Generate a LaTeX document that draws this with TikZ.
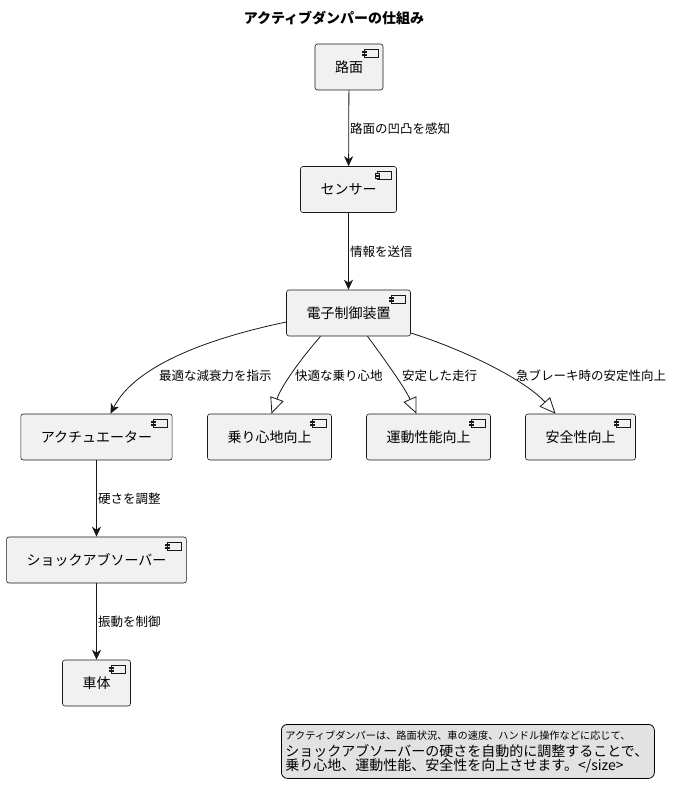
\documentclass[tikz,border=0pt]{standalone}
\usepackage{fontspec}
\setmainfont{Noto Sans CJK JP}
\usetikzlibrary{arrows.meta}
\definecolor{nodefill}{HTML}{F1F1F1}
\definecolor{edgecol}{HTML}{181818}
\definecolor{notefill}{HTML}{E2E2E2}
\tikzset{
  comp/.style={draw=edgecol, fill=nodefill, line width=0.6pt, rounded corners=2.5pt,
    minimum height=46pt, inner xsep=20pt, font=\fontsize{14}{16}\selectfont,
    path picture={
      \begin{scope}[sharp corners, line width=0.4pt, draw=edgecol]
        \draw[fill=nodefill] ([xshift=-19pt,yshift=-5pt]path picture bounding box.north east) rectangle ++(14,8);
        \draw[fill=nodefill] ([xshift=-21pt,yshift=-7pt]path picture bounding box.north east) rectangle ++(4,1.6);
        \draw[fill=nodefill] ([xshift=-21pt,yshift=-10pt]path picture bounding box.north east) rectangle ++(4,1.6);
      \end{scope}}},
  lbl/.style={anchor=west, font=\fontsize{12.5}{14}\selectfont, inner sep=0pt},
  flow/.style={draw=edgecol, line width=0.8pt, -{Stealth[length=10pt,width=9pt,inset=3pt]}},
  ext/.style={draw=edgecol, line width=0.8pt, -{Triangle[open,length=16pt,width=14pt,fill=white]}},
  notebox/.style={draw=black, fill=notefill, line width=0.8pt, rounded corners=6pt, align=left,
    inner xsep=4pt, inner ysep=3pt, text width=365pt, minimum height=54pt, anchor=north west}
}
\begin{document}
\begin{tikzpicture}[x=1pt,y=-1pt]
\useasboundingbox[fill=white] (0,0) rectangle (679,797);
\node[font=\fontsize{14}{16}\selectfont\bfseries] (title) at (334,18) {アクティブダンパーの仕組み};

\node[comp] (road) at (349,67) {路面};
\node[comp] (sensor) at (348.5,189.5) {センサー};
\node[comp] (ecu) at (348.5,313) {電子制御装置};
\node[comp] (act) at (96.5,437) {アクチュエーター};
\node[comp] (ride) at (269.5,437) {乗り心地向上};
\node[comp] (perf) at (428.5,437) {運動性能向上};
\node[comp] (safe) at (580.5,437) {安全性向上};
\node[comp] (shock) at (96.5,560) {ショックアブソーバー};
\node[comp] (body) at (96.5,683) {車体};

\draw[flow] (road) -- (sensor);
\draw[flow] (sensor) -- (ecu);
\draw[flow] ([yshift=-9pt]ecu.west) .. controls (210,338) and (135,365) .. ([xshift=14pt]act.north);
\draw[ext] ([xshift=-28pt]ecu.south) .. controls (300,360) and (282,385) .. ([xshift=2pt]ride.north);
\draw[ext] ([xshift=19pt]ecu.south) .. controls (385,360) and (405,388) .. ([xshift=-12pt]perf.north);
\draw[ext] ([yshift=-20pt]ecu.east) .. controls (465,350) and (525,380) .. ([xshift=-25pt]safe.north);
\draw[flow] (act) -- (shock);
\draw[flow] (shock) -- (body);

\node[lbl] (l1) at (350,129) {路面の凹凸を感知};
\node[lbl] (l2) at (350,252) {情報を送信};
\node[lbl] (l3) at (159,376) {最適な減衰力を指示};
\node[lbl] (l4) at (295,376) {快適な乗り心地};
\node[lbl] (l5) at (402,376) {安定した走行};
\node[lbl] (l6) at (516,376) {急ブレーキ時の安定性向上};
\node[lbl] (l7) at (98,499) {硬さを調整};
\node[lbl] (l8) at (98,622) {振動を制御};

\node[notebox] (note) at (281,724) {\fontsize{10.2}{14}\selectfont アクティブダンパーは、路面状況、車の速度、ハンドル操作などに応じて、\\
\fontsize{14}{17}\selectfont ショックアブソーバーの硬さを自動的に調整することで、\\
乗り心地、運動性能、安全性を向上させます。</size>};
\end{tikzpicture}
\end{document}
